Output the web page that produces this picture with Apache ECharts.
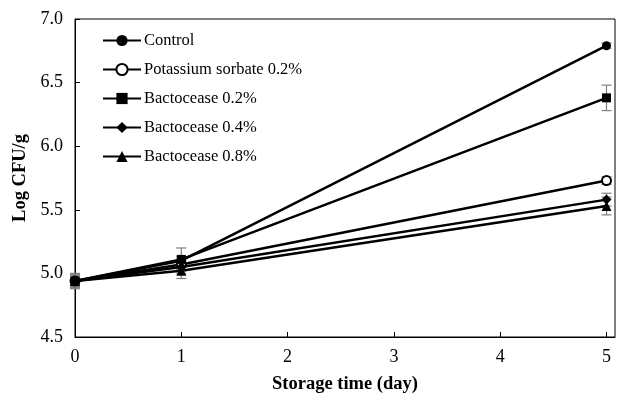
<!DOCTYPE html>
<html>
<head>
<meta charset="utf-8">
<script src="https://cdn.jsdelivr.net/npm/echarts@6/dist/echarts.min.js"></script>
<style>
  html, body { margin: 0; padding: 0; background: #fff; }
  #chart { width: 622px; height: 395px; }
</style>
</head>
<body>
<div id="chart"></div>
<script>
// storage days and log CFU/g means + error (SD)
const days = [0, 1, 5];
const xTicks = [0, 1, 2, 3, 4, 5];

const control = [4.94, 5.10, 6.79];
const controlErr = [0.03, 0.03, 0.02];
const sorbate = [4.94, 5.07, 5.73];
const sorbateErr = [0.04, 0.04, 0.03];
const bacto02 = [4.94, 5.11, 6.38];
const bacto02Err = [0.05, 0.09, 0.10];
const bacto04 = [4.94, 5.05, 5.58];
const bacto04Err = [0.04, 0.05, 0.05];
const bacto08 = [4.94, 5.02, 5.53];
const bacto08Err = [0.06, 0.06, 0.07];

const seriesDefs = [
  { name: 'Control', values: control, err: controlErr, symbol: 'circle' },
  { name: 'Potassium sorbate 0.2%', values: sorbate, err: sorbateErr, symbol: 'emptyCircle' },
  { name: 'Bactocease 0.2%', values: bacto02, err: bacto02Err, symbol: 'rect' },
  { name: 'Bactocease 0.4%', values: bacto04, err: bacto04Err, symbol: 'diamond' },
  { name: 'Bactocease 0.8%', values: bacto08, err: bacto08Err, symbol: 'triangle' }
];

const serif = '"Liberation Serif", "Times New Roman", serif';

function errorBarSeries(def) {
  return {
    type: 'custom',
    name: def.name + ' err',
    silent: true,
    z: 1,
    data: days.map((d, i) => [d, def.values[i] - def.err[i], def.values[i] + def.err[i]]),
    renderItem: function (params, api) {
      const lo = api.coord([api.value(0), api.value(1)]);
      const hi = api.coord([api.value(0), api.value(2)]);
      const w = 5;
      const style = { stroke: '#808080', lineWidth: 1.2 };
      return {
        type: 'group',
        children: [
          { type: 'line', shape: { x1: hi[0], y1: hi[1], x2: lo[0], y2: lo[1] }, style: style },
          { type: 'line', shape: { x1: hi[0] - w, y1: hi[1], x2: hi[0] + w, y2: hi[1] }, style: style },
          { type: 'line', shape: { x1: lo[0] - w, y1: lo[1], x2: lo[0] + w, y2: lo[1] }, style: style }
        ]
      };
    }
  };
}

const lineSeries = seriesDefs.map(def => ({
  type: 'line',
  name: def.name,
  data: days.map((d, i) => [d, def.values[i]]),
  symbol: def.symbol,
  symbolSize: def.symbol === 'triangle' || def.symbol === 'diamond' ? 10 : 9,
  z: 3,
  lineStyle: { color: '#000', width: 2.5 },
  itemStyle: { color: '#000', borderColor: '#000', borderWidth: def.symbol === 'emptyCircle' ? 1.5 : 0 }
}));

const chart = echarts.init(document.getElementById('chart'), null, { renderer: 'canvas' });
chart.setOption({
  animation: false,
  backgroundColor: '#fff',
  grid: {
    left: 75, right: 7, top: 19, bottom: 58,
    outerBoundsMode: 'none',
    show: true, borderColor: '#000', borderWidth: 1
  },
  legend: {
    orient: 'vertical',
    left: 97,
    top: 27,
    itemWidth: 38,
    itemHeight: 14,
    itemGap: 12,
    data: seriesDefs.map(d => d.name),
    textStyle: { fontFamily: serif, fontSize: 16.5, lineHeight: 16, color: '#000', padding: [0, 0, 0, -2] }
  },
  xAxis: {
    type: 'value',
    min: 0,
    max: 5.08,
    name: 'Storage time (day)',
    nameLocation: 'middle',
    nameGap: 38,
    nameTextStyle: { fontFamily: serif, fontSize: 18.5, fontWeight: 'bold', color: '#000' },
    axisLine: { lineStyle: { color: '#000', width: 1 } },
    axisTick: { inside: true, length: 5, customValues: xTicks, lineStyle: { color: '#000' } },
    axisLabel: { customValues: xTicks, margin: 11, fontFamily: serif, fontSize: 18, color: '#000' },
    splitLine: { show: false }
  },
  yAxis: {
    type: 'value',
    min: 4.5,
    max: 7.0,
    interval: 0.5,
    name: 'Log CFU/g',
    nameLocation: 'middle',
    nameGap: 43,
    nameTextStyle: { fontFamily: serif, fontSize: 18.5, fontWeight: 'bold', color: '#000' },
    axisLine: { show: true, lineStyle: { color: '#000', width: 1 } },
    axisTick: { show: true, inside: true, length: 5, lineStyle: { color: '#000' } },
    axisLabel: { formatter: v => v.toFixed(1), margin: 12, fontFamily: serif, fontSize: 18, color: '#000' },
    splitLine: { show: false }
  },
  series: seriesDefs.map(errorBarSeries).concat(lineSeries)
});
</script>
</body>
</html>
